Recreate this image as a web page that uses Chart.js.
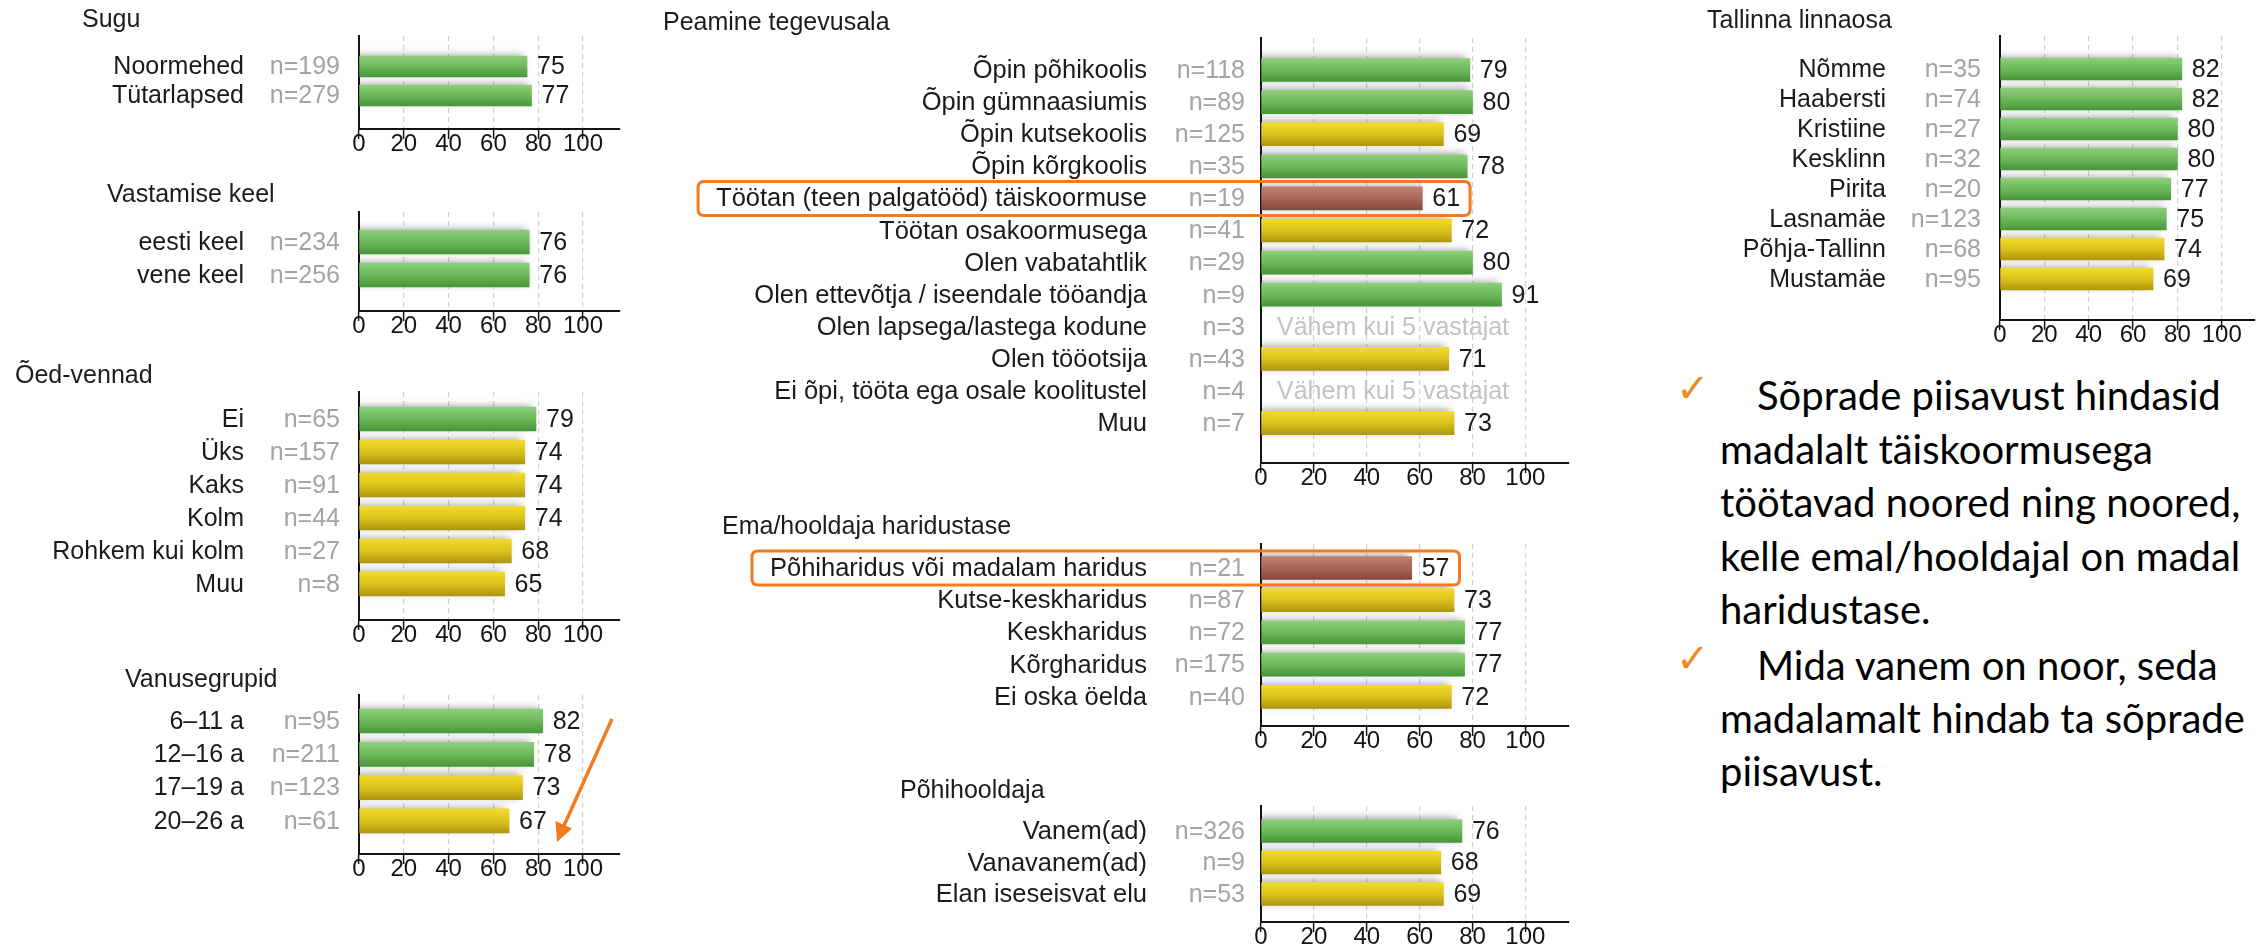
<!DOCTYPE html>
<html><head><meta charset="utf-8">
<script src="https://cdn.jsdelivr.net/npm/chart.js@4/dist/chart.umd.min.js"></script>
<style>
html,body{margin:0;padding:0;background:#fff;}
body{width:2267px;height:950px;position:relative;overflow:hidden;}
.panel{position:absolute;}
.note{position:absolute;font-family:Lato,'Open Sans',sans-serif;font-size:40px;color:#000;white-space:nowrap;line-height:52px;height:52px;}
.chk{position:absolute;font-family:'DejaVu Sans',sans-serif;font-size:40px;color:#f08a24;line-height:44px;}
svg{position:absolute;left:0;top:0;}
</style></head><body>
<script>
// ---------- data ----------
const xTicks = [0, 20, 40, 60, 80, 100];
const noDataText = "Vähem kui 5 vastajat";

const suguTitle = "Sugu";
const suguLabels = ["Noormehed", "Tütarlapsed"];
const suguN = ["n=199", "n=279"];
const suguValues = [75, 77];

const keelTitle = "Vastamise keel";
const keelLabels = ["eesti keel", "vene keel"];
const keelN = ["n=234", "n=256"];
const keelValues = [76, 76];

const oedTitle = "Õed-vennad";
const oedLabels = ["Ei", "Üks", "Kaks", "Kolm", "Rohkem kui kolm", "Muu"];
const oedN = ["n=65", "n=157", "n=91", "n=44", "n=27", "n=8"];
const oedValues = [79, 74, 74, 74, 68, 65];

const vanusTitle = "Vanusegrupid";
const vanusLabels = ["6–11 a", "12–16 a", "17–19 a", "20–26 a"];
const vanusN = ["n=95", "n=211", "n=123", "n=61"];
const vanusValues = [82, 78, 73, 67];

const tegevTitle = "Peamine tegevusala";
const tegevLabels = ["Õpin põhikoolis", "Õpin gümnaasiumis", "Õpin kutsekoolis", "Õpin kõrgkoolis",
  "Töötan (teen palgatööd) täiskoormuse", "Töötan osakoormusega", "Olen vabatahtlik",
  "Olen ettevõtja / iseendale tööandja", "Olen lapsega/lastega kodune", "Olen tööotsija",
  "Ei õpi, tööta ega osale koolitustel", "Muu"];
const tegevN = ["n=118", "n=89", "n=125", "n=35", "n=19", "n=41", "n=29", "n=9", "n=3", "n=43", "n=4", "n=7"];
const tegevValues = [79, 80, 69, 78, 61, 72, 80, 91, null, 71, null, 73];
const tegevHighlight = [4];

const emaTitle = "Ema/hooldaja haridustase";
const emaLabels = ["Põhiharidus või madalam haridus", "Kutse-keskharidus", "Keskharidus", "Kõrgharidus", "Ei oska öelda"];
const emaN = ["n=21", "n=87", "n=72", "n=175", "n=40"];
const emaValues = [57, 73, 77, 77, 72];
const emaHighlight = [0];

const hooldTitle = "Põhihooldaja";
const hooldLabels = ["Vanem(ad)", "Vanavanem(ad)", "Elan iseseisvat elu"];
const hooldN = ["n=326", "n=9", "n=53"];
const hooldValues = [76, 68, 69];

const tallTitle = "Tallinna linnaosa";
const tallLabels = ["Nõmme", "Haabersti", "Kristiine", "Kesklinn", "Pirita", "Lasnamäe", "Põhja-Tallinn", "Mustamäe"];
const tallN = ["n=35", "n=74", "n=27", "n=32", "n=20", "n=123", "n=68", "n=95"];
const tallValues = [82, 82, 80, 80, 77, 75, 74, 69];

const note1 = ["Sõprade piisavust hindasid", "madalalt täiskoormusega", "töötavad noored ning noored,", "kelle emal/hooldajal on madal", "haridustase."];
const note2 = ["Mida vanem on noor, seda", "madalamalt hindab ta sõprade", "piisavust."];

// ---------- layout / style ----------
const FONT = "'Liberation Sans', Arial, sans-serif";
const GRAD = {
  green: ['#8fce7b', '#6bb95a', '#4a963b'],
  yellow: ['#f1dc2c', '#dcc21a', '#ad9610'],
  red: ['#bf8072', '#a86658', '#87463c']
};
function rowColor(v) { return v >= 75 ? 'green' : (v >= 62 ? 'yellow' : 'red'); }

const XH = 26;
const LEFTCOL = { x0: 359, xEnd: 620, xmax: 116.5, labelRight: 244, nRight: 340, labelSize: 25 };
const MIDCOL = { x0: 1261, xEnd: 1569, xmax: 116.5, labelRight: 1147, nRight: 1245, labelSize: 25.5 };
const RIGHTCOL = { x0: 2000, xEnd: 2255, xmax: 115, labelRight: 1886, nRight: 1981, labelSize: 25 };

const panels = [
  { title: suguTitle, labels: suguLabels, n: suguN, values: suguValues,
    L: Object.assign({ left: 0, top: 0, width: 640, height: 175, axisTop: 36, axisBottom: 129, first: 66.5, spacing: 29, thick: 21, titleX: 82, titleY: 20 }, LEFTCOL) },
  { title: keelTitle, labels: keelLabels, n: keelN, values: keelValues,
    L: Object.assign({ left: 0, top: 178, width: 640, height: 175, axisTop: 212, axisBottom: 311, first: 242, spacing: 33, thick: 24, titleX: 107, titleY: 195 }, LEFTCOL) },
  { title: oedTitle, labels: oedLabels, n: oedN, values: oedValues,
    L: Object.assign({ left: 0, top: 356, width: 640, height: 300, axisTop: 392, axisBottom: 620, first: 419, spacing: 33, thick: 24, titleX: 15, titleY: 376 }, LEFTCOL) },
  { title: vanusTitle, labels: vanusLabels, n: vanusN, values: vanusValues,
    L: Object.assign({ left: 0, top: 660, width: 640, height: 250, axisTop: 695, axisBottom: 854, first: 721, spacing: 33.3, thick: 24, titleX: 125, titleY: 680 }, LEFTCOL) },
  { title: tegevTitle, labels: tegevLabels, n: tegevN, values: tegevValues, highlight: tegevHighlight,
    L: Object.assign({ left: 640, top: 0, width: 960, height: 495, axisTop: 38, axisBottom: 463, first: 70, spacing: 32.1, thick: 23, titleX: 663, titleY: 23 }, MIDCOL) },
  { title: emaTitle, labels: emaLabels, n: emaN, values: emaValues, highlight: emaHighlight,
    L: Object.assign({ left: 640, top: 500, width: 960, height: 265, axisTop: 544, axisBottom: 726, first: 568, spacing: 32.2, thick: 23, titleX: 722, titleY: 527 }, MIDCOL) },
  { title: hooldTitle, labels: hooldLabels, n: hooldN, values: hooldValues,
    L: Object.assign({ left: 640, top: 770, width: 960, height: 180, axisTop: 806, axisBottom: 922, first: 831, spacing: 31.5, thick: 23, titleX: 900, titleY: 791 }, MIDCOL) },
  { title: tallTitle, labels: tallLabels, n: tallN, values: tallValues,
    L: Object.assign({ left: 1660, top: 0, width: 607, height: 365, axisTop: 36, axisBottom: 320, first: 69, spacing: 30, thick: 22, titleX: 1707, titleY: 21 }, RIGHTCOL) }
];

const shadowPlugin = {
  id: 'barShadow',
  beforeDatasetsDraw(chart) {
    const c = chart.ctx; c.save();
    c.shadowColor = 'rgba(0,0,0,0.32)'; c.shadowBlur = 7; c.shadowOffsetX = -4; c.shadowOffsetY = -2;
  },
  afterDatasetsDraw(chart) { chart.ctx.restore(); }
};

function roundRect(ctx, x, y, w, h, r) {
  ctx.beginPath();
  ctx.moveTo(x + r, y); ctx.lineTo(x + w - r, y); ctx.quadraticCurveTo(x + w, y, x + w, y + r);
  ctx.lineTo(x + w, y + h - r); ctx.quadraticCurveTo(x + w, y + h, x + w - r, y + h);
  ctx.lineTo(x + r, y + h); ctx.quadraticCurveTo(x, y + h, x, y + h - r);
  ctx.lineTo(x, y + r); ctx.quadraticCurveTo(x, y, x + r, y); ctx.closePath();
}

function textPlugin(p) {
  const L = p.L;
  return {
    id: 'panelText',
    afterDraw(chart) {
      const ctx = chart.ctx, xs = chart.scales.x, ys = chart.scales.y;
      ctx.save();
      ctx.textBaseline = 'middle';
      ctx.font = '25px ' + FONT; ctx.fillStyle = '#1c1c1c'; ctx.textAlign = 'left';
      ctx.fillText(p.title, L.titleX - L.left, L.titleY - L.top);
      p.labels.forEach((lab, i) => {
        const y = ys.getPixelForValue(i) + 1;
        ctx.textAlign = 'right';
        ctx.font = L.labelSize + 'px ' + FONT; ctx.fillStyle = '#1a1a1a';
        ctx.fillText(lab, L.labelRight - L.left, y);
        ctx.font = '25px ' + FONT; ctx.fillStyle = '#a3a3a3';
        ctx.fillText(p.n[i], L.nRight - L.left, y);
        const v = p.values[i];
        ctx.textAlign = 'left';
        if (v == null) {
          ctx.fillStyle = '#c2c2c2';
          ctx.fillText(noDataText, xs.left + 16, y);
        } else {
          ctx.fillStyle = '#1a1a1a';
          ctx.fillText(String(v), xs.getPixelForValue(v) + 10, y);
        }
      });
      (p.highlight || []).forEach(i => {
        const y = ys.getPixelForValue(i);
        ctx.font = L.labelSize + 'px ' + FONT;
        const lw = ctx.measureText(p.labels[i]).width;
        ctx.font = '25px ' + FONT;
        const vw = ctx.measureText(String(p.values[i])).width;
        const x1 = L.labelRight - L.left - lw - 18;
        const x2 = xs.getPixelForValue(p.values[i]) + 10 + vw + 10;
        ctx.lineWidth = 3; ctx.strokeStyle = '#f37a1f';
        roundRect(ctx, x1, y - 17, x2 - x1, 34, 6);
        ctx.stroke();
      });
      ctx.restore();
    }
  };
}

function makeChart(p) {
  const L = p.L;
  const div = document.createElement('div');
  div.className = 'panel';
  Object.assign(div.style, { left: L.left + 'px', top: L.top + 'px', width: L.width + 'px', height: L.height + 'px' });
  const cv = document.createElement('canvas');
  div.appendChild(cv); document.body.appendChild(div);
  const n = p.labels.length;
  const yMin = -(L.first - L.axisTop) / L.spacing;
  const yMax = (n - 1) + (L.axisBottom - L.first - (n - 1) * L.spacing) / L.spacing;
  const pad = { left: L.x0 - L.left, top: L.axisTop - L.top, right: L.left + L.width - L.xEnd, bottom: L.top + L.height - L.axisBottom - XH };
  const data = p.values.map((v, i) => v == null ? null : { x: v, y: i }).filter(d => d);
  new Chart(cv, {
    type: 'bar',
    data: { datasets: [{
      data: data,
      barThickness: L.thick,
      borderWidth: 0,
      backgroundColor: (c) => {
        if (c.type !== 'data' || !c.raw) return GRAD.green[1];
        const st = GRAD[rowColor(c.raw.x)];
        const ys = c.chart.scales.y;
        if (!ys || !c.chart.chartArea) return st[1];
        const yc = ys.getPixelForValue(c.raw.y), h = L.thick / 2;
        const g = c.chart.ctx.createLinearGradient(0, yc - h, 0, yc + h);
        g.addColorStop(0, st[0]); g.addColorStop(0.5, st[1]); g.addColorStop(1, st[2]);
        return g;
      }
    }] },
    options: {
      indexAxis: 'y', responsive: true, maintainAspectRatio: false, animation: false, events: [],
      devicePixelRatio: 1,
      layout: { padding: pad },
      scales: {
        x: {
          type: 'linear', position: 'bottom', min: 0, max: L.xmax, bounds: 'data',
          afterBuildTicks: s => { s.min = 0; s.max = L.xmax; s.ticks = xTicks.map(v => ({ value: v })); },
          afterFit: s => { s.height = XH; },
          ticks: { font: { family: FONT, size: 24, lineHeight: 1 }, color: '#141414', padding: -7, maxRotation: 0, autoSkip: false },
          grid: { color: c => (c.tick && c.tick.value === 0) ? 'rgba(0,0,0,0)' : '#d2d2d2', lineWidth: 1.2, tickColor: '#141414', tickLength: 10, tickWidth: 1.5 },
          border: { display: true, color: '#141414', width: 2, dash: [5, 4] }
        },
        y: {
          type: 'linear', position: 'left', reverse: true, min: yMin, max: yMax, bounds: 'data',
          afterBuildTicks: s => { s.min = yMin; s.max = yMax; s.ticks = []; },
          afterFit: s => { s.width = 0; },
          ticks: { display: false }, grid: { display: false, drawTicks: false },
          border: { display: true, color: '#141414', width: 2 }
        }
      },
      plugins: { legend: { display: false }, tooltip: { enabled: false }, title: { display: false } }
    },
    plugins: [shadowPlugin, textPlugin(p)]
  });
}

panels.forEach(makeChart);

// ---------- notes ----------
function addNote(lines, firstX, restX, y0, lh) {
  lines.forEach((t, i) => {
    const d = document.createElement('div');
    d.className = 'note';
    d.textContent = t;
    d.style.left = (i === 0 ? firstX : restX) + 'px';
    d.style.top = (y0 + i * lh - 26) + 'px';
    document.body.appendChild(d);
  });
}
function addCheck(x, y) {
  const d = document.createElement('div');
  d.className = 'chk'; d.textContent = '✓';
  d.style.left = x + 'px'; d.style.top = (y - 22) + 'px';
  document.body.appendChild(d);
}
addCheck(1676, 388); addCheck(1676, 658);
addNote(note1, 1757, 1720, 395, 53.5);
addNote(note2, 1757, 1720, 665, 53);

// ---------- arrow annotation ----------
const svgNS = 'http://www.w3.org/2000/svg';
const svg = document.createElementNS(svgNS, 'svg');
svg.setAttribute('width', '2267'); svg.setAttribute('height', '950');
const line = document.createElementNS(svgNS, 'line');
line.setAttribute('x1', '612'); line.setAttribute('y1', '719');
line.setAttribute('x2', '562'); line.setAttribute('y2', '830');
line.setAttribute('stroke', '#f37a1f'); line.setAttribute('stroke-width', '3.5');
const head = document.createElementNS(svgNS, 'polygon');
head.setAttribute('points', '557,842 555.5,821 572,828.5');
head.setAttribute('fill', '#f37a1f');
svg.appendChild(line); svg.appendChild(head);
document.body.appendChild(svg);
</script>
</body></html>
